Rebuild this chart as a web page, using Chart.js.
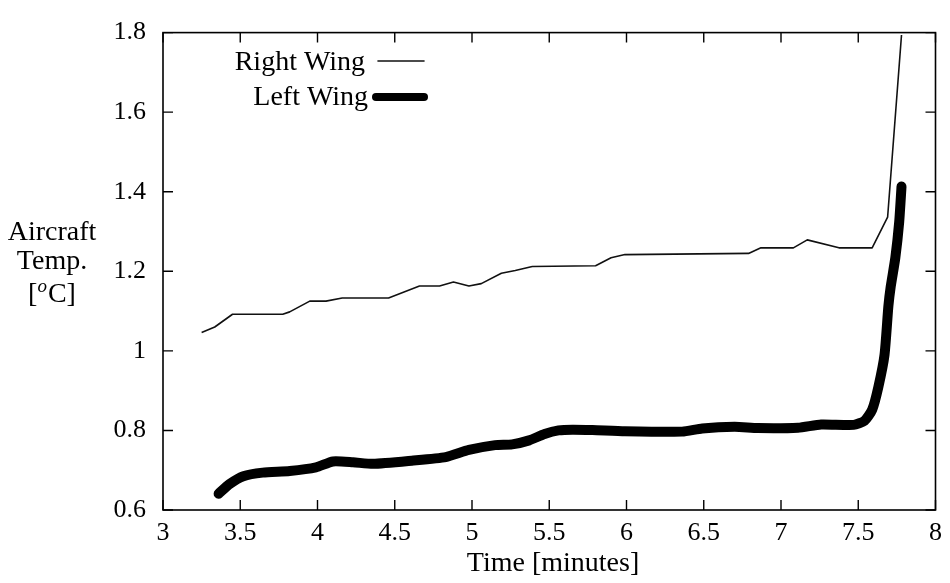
<!DOCTYPE html>
<html>
<head>
<meta charset="utf-8">
<script src="https://cdn.jsdelivr.net/npm/chart.js@4/dist/chart.umd.min.js"></script>
<style>
html,body{margin:0;padding:0;background:#fff;}
canvas{display:block;}
</style>
</head>
<body>
<canvas id="c" width="950" height="583"></canvas>
<script>
const seriesNames = ['Right Wing', 'Left Wing'];
const rightX = [3.25,3.335,3.45,3.775,3.82,3.95,4.055,4.16,4.46,4.66,4.79,4.88,4.98,5.06,5.19,5.28,5.39,5.8,5.9,5.99,6.79,6.87,7.08,7.17,7.375,7.59,7.69,7.78];
const rightY = [1.046,1.06,1.092,1.092,1.098,1.125,1.125,1.133,1.133,1.163,1.163,1.173,1.163,1.169,1.195,1.202,1.212,1.214,1.234,1.242,1.245,1.259,1.259,1.279,1.259,1.259,1.336,1.794];
const leftX = [3.36,3.43,3.52,3.645,3.82,3.99,4.10,4.23,4.36,4.61,4.83,4.98,5.15,5.26,5.37,5.47,5.56,5.65,5.78,5.99,6.36,6.49,6.70,6.85,7.11,7.26,7.47,7.54,7.59,7.63,7.67,7.695,7.71,7.74,7.765,7.78];
const leftY = [0.641,0.665,0.685,0.694,0.698,0.707,0.722,0.72,0.716,0.724,0.733,0.751,0.763,0.765,0.775,0.791,0.8,0.802,0.801,0.798,0.797,0.805,0.809,0.806,0.807,0.815,0.814,0.824,0.852,0.909,0.99,1.112,1.161,1.234,1.324,1.413];
const xTicks = [3,3.5,4,4.5,5,5.5,6,6.5,7,7.5,8];
const yTicks = [0.6,0.8,1,1.2,1.4,1.6,1.8];
const xTitle = 'Time [minutes]';
const yTitleLines = ['Aircraft', 'Temp.'];

const FONT = '"Liberation Serif", "Times New Roman", serif';
const TSIZE = 28;
const pts = (xs, ys) => xs.map((x, i) => ({x, y: ys[i]}));
const fmt = v => String(Math.round(v * 10) / 10);

const framePlugin = {
  id: 'frame',
  afterDraw(chart) {
    const ctx = chart.ctx, a = chart.chartArea;
    const xs = chart.scales.x, ys = chart.scales.y;
    ctx.save();
    ctx.strokeStyle = '#000';
    ctx.lineWidth = 1.6;
    ctx.strokeRect(a.left, a.top, a.right - a.left, a.bottom - a.top);
    ctx.lineWidth = 1.4;
    const L = 10;
    ctx.beginPath();
    xTicks.forEach(v => {
      const p = xs.getPixelForValue(v);
      ctx.moveTo(p, a.bottom); ctx.lineTo(p, a.bottom - L);
      ctx.moveTo(p, a.top); ctx.lineTo(p, a.top + L);
    });
    yTicks.forEach(v => {
      const p = ys.getPixelForValue(v);
      ctx.moveTo(a.left, p); ctx.lineTo(a.left + L, p);
      ctx.moveTo(a.right, p); ctx.lineTo(a.right - L, p);
    });
    ctx.stroke();

    ctx.fillStyle = '#000';
    ctx.font = TSIZE + 'px ' + FONT;
    ctx.textAlign = 'center';
    ctx.textBaseline = 'middle';
    ctx.fillText(xTitle, 553, 564);
    ctx.fillText(yTitleLines[0], 52, 233);
    ctx.fillText(yTitleLines[1], 52, 262);
    const cx = 52, cy = 295;
    const wB1 = ctx.measureText('[').width, wC = ctx.measureText('C]').width;
    ctx.font = 'italic 19px ' + FONT;
    const wO = ctx.measureText('o').width;
    const total = wB1 + wO + 1 + wC;
    let x0 = cx - total / 2;
    ctx.textAlign = 'left';
    ctx.font = TSIZE + 'px ' + FONT;
    ctx.fillText('[', x0, cy);
    ctx.font = 'italic 19px ' + FONT;
    ctx.fillText('o', x0 + wB1, cy - 8);
    ctx.font = TSIZE + 'px ' + FONT;
    ctx.fillText('C]', x0 + wB1 + wO + 1, cy);

    ctx.textAlign = 'right';
    ctx.textBaseline = 'alphabetic';
    ctx.fillText(seriesNames[0], 365, 70);
    ctx.fillText(seriesNames[1], 368, 105);
    const ds = chart.data.datasets;
    ctx.lineCap = 'round';
    ctx.strokeStyle = ds[0].borderColor;
    ctx.lineWidth = ds[0].borderWidth;
    ctx.beginPath(); ctx.moveTo(378, 61); ctx.lineTo(424, 61); ctx.stroke();
    ctx.strokeStyle = ds[1].borderColor;
    ctx.lineWidth = 8;
    ctx.beginPath(); ctx.moveTo(376, 97); ctx.lineTo(424, 97); ctx.stroke();
    ctx.restore();
  }
};

new Chart(document.getElementById('c'), {
  type: 'scatter',
  data: {
    datasets: [
      { label: seriesNames[0], data: pts(rightX, rightY), showLine: true, borderColor: '#111', borderWidth: 1.6, pointRadius: 0, tension: 0, borderJoinStyle: 'round' },
      { label: seriesNames[1], data: pts(leftX, leftY), showLine: true, borderColor: '#000', borderWidth: 10, pointRadius: 0, tension: 0.2, borderCapStyle: 'round', borderJoinStyle: 'round' }
    ]
  },
  options: {
    responsive: false,
    animation: false,
    layout: { padding: { top: 18, right: 12, left: 0, bottom: 0 } },
    plugins: { legend: { display: false }, tooltip: { enabled: false } },
    scales: {
      x: {
        type: 'linear', min: 3, max: 8,
        afterBuildTicks: s => { s.ticks = xTicks.map(v => ({value: v})); },
        afterFit: s => { s.height = 73; },
        grid: { display: false, drawTicks: false },
        border: { display: false },
        ticks: { color: '#000', padding: 8, font: { family: FONT, size: 26 }, maxRotation: 0, autoSkip: false, callback: fmt }
      },
      y: {
        type: 'linear', min: 0.6, max: 1.8,
        afterBuildTicks: s => { s.ticks = yTicks.map(v => ({value: v})); },
        afterFit: s => { s.width = 163; },
        grid: { display: false, drawTicks: false },
        border: { display: false },
        ticks: { color: '#000', padding: 17, font: { family: FONT, size: 26 }, autoSkip: false, callback: fmt }
      }
    }
  },
  plugins: [framePlugin]
});
</script>
</body>
</html>
